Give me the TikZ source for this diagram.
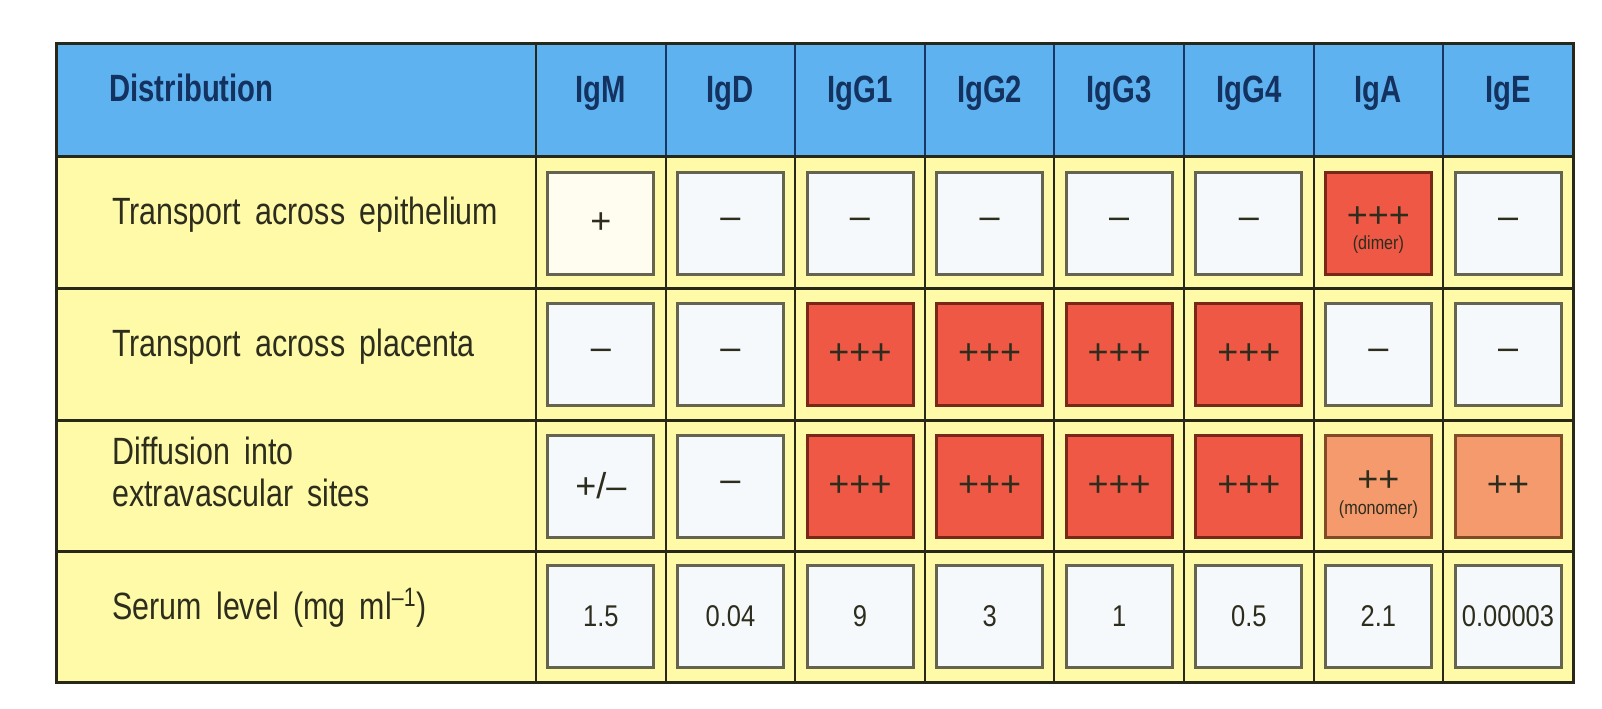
\documentclass[tikz,border=0pt]{standalone}
\usepackage{fontspec}
\usepackage{xcolor}
\usetikzlibrary{positioning}

\newfontfamily\igfam{Liberation Sans}[FakeStretch=0.8,WordSpace=1.7]
\newfontfamily\igheadfam{Liberation Sans}[FakeStretch=0.77]
\newfontfamily\ignumfam{Liberation Sans}[FakeStretch=0.85]
\newfontfamily\igsymfam{Liberation Sans}

\definecolor{headblue}{RGB}{94,178,240}
\definecolor{headtext}{RGB}{20,50,95}
\definecolor{headline}{RGB}{25,55,100}
\definecolor{bodyyellow}{RGB}{255,250,168}
\definecolor{bodytext}{RGB}{45,45,30}
\definecolor{gridline}{RGB}{40,40,25}
\definecolor{boxwhite}{RGB}{246,249,252}
\definecolor{boxcream}{RGB}{255,252,240}
\definecolor{boxline}{RGB}{100,100,80}
\definecolor{boxred}{RGB}{240,88,70}
\definecolor{redline}{RGB}{120,40,25}
\definecolor{boxorange}{RGB}{244,154,108}
\definecolor{orangeline}{RGB}{130,75,40}

\tikzset{
  headtxt/.style={anchor=base, inner sep=0pt, text=headtext,
    font=\igheadfam\bfseries\fontsize{19}{21}\selectfont},
  rowtxt/.style={inner sep=0pt, text=bodytext, align=left,
    font=\igfam\fontsize{19}{21}\selectfont},
  cellbox/.style={draw=boxline, line width=1.5pt, fill=boxwhite,
    minimum width=53pt, minimum height=51pt, inner sep=0pt, text=bodytext,
    font=\igsymfam\fontsize{18}{20}\selectfont},
  hibox/.style={cellbox, fill=boxred, draw=redline},
  midbox/.style={cellbox, fill=boxorange, draw=orangeline},
  numbox/.style={cellbox, font=\ignumfam\fontsize{15}{17}\selectfont},
  subtxt/.style={inner sep=0pt, text=bodytext,
    font=\ignumfam\fontsize{9.5}{11}\selectfont},
  gridrule/.style={draw=gridline, line width=1.5pt},
  colrule/.style={draw=gridline, line width=1pt},
  headrule/.style={draw=headline, line width=1pt}
}

\begin{document}
\begin{tikzpicture}[x=0.5pt,y=-0.5pt]
  \useasboundingbox (0,0) rectangle (1602,708);

  % Backgrounds of the header and the body
  \fill[headblue] (56,43) rectangle (1573,156);
  \fill[bodyyellow] (56,156) rectangle (1573,682);

  % Column rules in the header and in the body
  \draw[headrule] (665.6,43) -- (665.6,156) (795.2,43) -- (795.2,156)
    (924.8,43) -- (924.8,156) (1054.4,43) -- (1054.4,156)
    (1184,43) -- (1184,156) (1313.6,43) -- (1313.6,156)
    (1443.2,43) -- (1443.2,156);
  \draw[colrule] (665.6,156) -- (665.6,682) (795.2,156) -- (795.2,682)
    (924.8,156) -- (924.8,682) (1054.4,156) -- (1054.4,682)
    (1184,156) -- (1184,682) (1313.6,156) -- (1313.6,682)
    (1443.2,156) -- (1443.2,682);
  \draw[colrule] (536,43) -- (536,682);

  % Row rules and the frame
  \draw[gridrule] (56,288) -- (1573,288) (56,420) -- (1573,420)
    (56,551) -- (1573,551);
  \draw[gridrule] (56,156) -- (1573,156);
  \draw[gridrule] (56,43) rectangle (1573,682);

  % Header
  \node[headtxt, anchor=base west] (hDist) at (109,101) {Distribution};
  \node[headtxt] (hIgM) at (600.8,102) {IgM};
  \node[headtxt] (hIgD) at (730.4,102) {IgD};
  \node[headtxt] (hIgGa) at (860,102) {IgG1};
  \node[headtxt] (hIgGb) at (989.6,102) {IgG2};
  \node[headtxt] (hIgGc) at (1119.2,102) {IgG3};
  \node[headtxt] (hIgGd) at (1248.8,102) {IgG4};
  \node[headtxt] (hIgA) at (1378.4,102) {IgA};
  \node[headtxt] (hIgE) at (1508,102) {IgE};

  % Row labels
  \node[rowtxt, anchor=base west] (rEpi) at (112,224) {Transport across epithelium};
  \node[rowtxt, anchor=base west] (rPla) at (112,356) {Transport across placenta};
  \node[rowtxt, anchor=west] (rDif) at (112,472) {Diffusion into\\extravascular sites};
  \node[rowtxt, anchor=base west] (rSer) at (112,619) {Serum level (mg ml\textsuperscript{–1})};

  % Transport across epithelium
  \node[cellbox, fill=boxcream] (epiIgM) at (600.8,223) {+};
  \node[cellbox] (epiIgD) at (730.4,223) {–};
  \node[cellbox] (epiIgGa) at (860,223) {–};
  \node[cellbox] (epiIgGb) at (989.6,223) {–};
  \node[cellbox] (epiIgGc) at (1119.2,223) {–};
  \node[cellbox] (epiIgGd) at (1248.8,223) {–};
  \node[hibox] (epiIgA) at (1378.4,223) {\raisebox{6pt}{+++}};
  \node[cellbox] (epiIgE) at (1508,223) {–};
  \node[subtxt, above=11pt of epiIgA.south] (epiIgAsub) {(dimer)};

  % Transport across placenta
  \node[cellbox] (plaIgM) at (600.8,354) {–};
  \node[cellbox] (plaIgD) at (730.4,354) {–};
  \node[hibox] (plaIgGa) at (860,354) {+++};
  \node[hibox] (plaIgGb) at (989.6,354) {+++};
  \node[hibox] (plaIgGc) at (1119.2,354) {+++};
  \node[hibox] (plaIgGd) at (1248.8,354) {+++};
  \node[cellbox] (plaIgA) at (1378.4,354) {–};
  \node[cellbox] (plaIgE) at (1508,354) {–};

  % Diffusion into extravascular sites
  \node[cellbox] (difIgM) at (600.8,486) {+/–};
  \node[cellbox] (difIgD) at (730.4,486) {–};
  \node[hibox] (difIgGa) at (860,486) {+++};
  \node[hibox] (difIgGb) at (989.6,486) {+++};
  \node[hibox] (difIgGc) at (1119.2,486) {+++};
  \node[hibox] (difIgGd) at (1248.8,486) {+++};
  \node[midbox] (difIgA) at (1378.4,486) {\raisebox{5pt}{++}};
  \node[midbox] (difIgE) at (1508,486) {++};
  \node[subtxt, above=10pt of difIgA.south] (difIgAsub) {(monomer)};

  % Serum level
  \node[numbox] (serIgM) at (600.8,616) {1.5};
  \node[numbox] (serIgD) at (730.4,616) {0.04};
  \node[numbox] (serIgGa) at (860,616) {9};
  \node[numbox] (serIgGb) at (989.6,616) {3};
  \node[numbox] (serIgGc) at (1119.2,616) {1};
  \node[numbox] (serIgGd) at (1248.8,616) {0.5};
  \node[numbox] (serIgA) at (1378.4,616) {2.1};
  \node[numbox] (serIgE) at (1508,616) {0.00003};

\end{tikzpicture}
\end{document}
